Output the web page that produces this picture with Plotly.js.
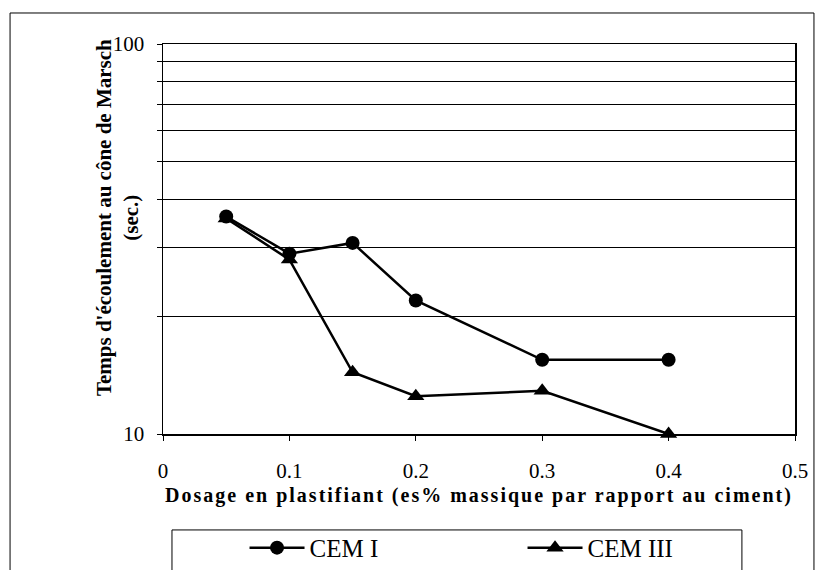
<!DOCTYPE html>
<html><head><meta charset="utf-8">
<script src="https://cdn.plot.ly/plotly-3.0.1.min.js"></script>
<style>html,body{margin:0;padding:0;background:#fff;}#chart{width:815px;height:570px;}
.xtitle{letter-spacing:2px;}</style>
</head><body><div id="chart"></div>
<script>
var dosage = [0.05, 0.1, 0.15, 0.2, 0.3, 0.4];
var cemI = [36.1, 29.0, 30.9, 22.0, 15.5, 15.5];
var cemIII = [35.7, 28.0, 14.4, 12.5, 12.9, 10.0];
var yTickVals = [10, 20, 30, 40, 50, 60, 70, 80, 90, 100];
var yTickText = ['10', '', '', '', '', '', '', '', '', '100'];
var xTickVals = [0, 0.1, 0.2, 0.3, 0.4, 0.5];
var xTickText = ['0', '0.1', '0.2', '0.3', '0.4', '0.5'];
var yTitle = "<b>Temps d'écoulement au cône de Marsch<br>(sec.)</b>";
var xTitle = '<b>Dosage en plastifiant (es% massique par rapport au ciment)</b>';

var serif = 'Liberation Serif, Times New Roman, serif';
var traces = [
  {x: dosage, y: cemI, name: 'CEM I', mode: 'lines+markers', type: 'scatter',
   line: {color: '#000', width: 2.5}, marker: {symbol: 'circle', size: 14, color: '#000'}, cliponaxis: false},
  {x: dosage, y: cemIII, name: 'CEM III', mode: 'lines+markers', type: 'scatter',
   line: {color: '#000', width: 2.5}, marker: {symbol: 'triangle-up', size: 15, color: '#000'}, cliponaxis: false}
];
var layout = {
  width: 815, height: 570,
  margin: {l: 163, r: 20, t: 44, b: 136, autoexpand: false},
  paper_bgcolor: '#fff', plot_bgcolor: '#fff',
  font: {family: serif, color: '#000', size: 18},
  showlegend: true,
  legend: {orientation: 'h', x: 0.129, y: -0.292, xanchor: 'left', yanchor: 'middle',
    font: {family: serif, size: 25, color: '#000'}, entrywidth: 208, entrywidthmode: 'pixels',
    bgcolor: 'rgba(0,0,0,0)', borderwidth: 0, itemwidth: 55},
  xaxis: {range: [0, 0.5], tickvals: xTickVals, ticktext: xTickText, showgrid: false,
    zeroline: false, showline: true, linecolor: '#000', linewidth: 1.5, mirror: true,
    ticks: 'outside', ticklen: 5, tickcolor: '#000', ticklabelstandoff: 12,
    tickfont: {family: serif, size: 21}, automargin: false,
    title: {text: xTitle, font: {family: serif, size: 20}, standoff: 6}},
  yaxis: {type: 'log', range: [1, 2], tickvals: yTickVals, ticktext: yTickText,
    showgrid: true, gridcolor: '#000', gridwidth: 1, zeroline: false,
    showline: true, linecolor: '#000', linewidth: 1.5, mirror: true,
    ticks: 'outside', ticklen: 5, tickcolor: '#000', ticklabelstandoff: 8,
    tickfont: {family: serif, size: 21}, automargin: false},
  annotations: [
    {text: yTitle, xref: 'paper', yref: 'paper', x: -0.071, y: 0.554, xanchor: 'center', yanchor: 'middle',
     textangle: -90, showarrow: false, font: {family: serif, size: 21, color: '#000'}}
  ],
  shapes: [
    {type: 'rect', xref: 'paper', yref: 'paper', x0: -0.242, x1: 1.030, y0: -0.5, y1: 1.0795,
     line: {color: '#000', width: 1}, fillcolor: 'rgba(0,0,0,0)', layer: 'below'},
    {type: 'rect', xref: 'paper', yref: 'paper', x0: 0.0142, x1: 0.916, y0: -0.5, y1: -0.246,
     line: {color: '#000', width: 1}, fillcolor: 'rgba(0,0,0,0)', layer: 'below'}
  ]
};
Plotly.newPlot('chart', traces, layout, {displayModeBar: false, staticPlot: true});
</script></body></html>
